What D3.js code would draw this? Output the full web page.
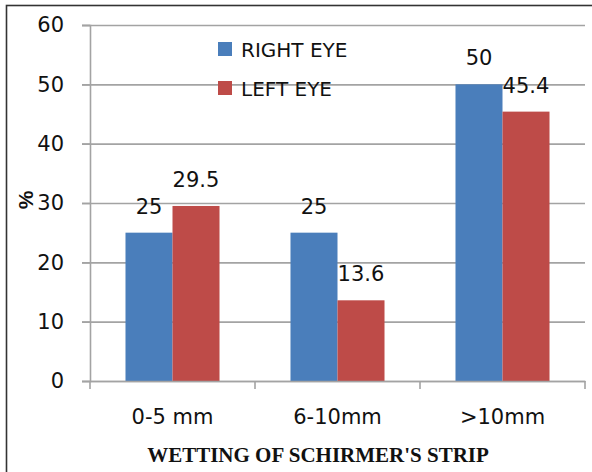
<!DOCTYPE html>
<html>
<head>
<meta charset="utf-8">
<script src="https://cdn.jsdelivr.net/npm/d3@7"></script>
<style>
  html, body { margin: 0; padding: 0; background: #fff; }
  svg { display: block; }
</style>
</head>
<body>
<svg id="chart" width="592" height="472"></svg>
<script>
// Schirmer's test results, % of eyes per wetting range
const categories = ["0-5 mm", "6-10mm", ">10mm"];
const rightEye = [25, 25, 50];
const leftEye = [29.5, 13.6, 45.4];
const seriesNames = ["RIGHT EYE", "LEFT EYE"];
const seriesColors = ["#4a7ebb", "#be4b48"];
const yTicks = [0, 10, 20, 30, 40, 50, 60];
const xTitle = "WETTING OF SCHIRMER'S STRIP";
const yTitle = "%";

const svg = d3.select("#chart");
const sans = "'DejaVu Sans', sans-serif";
const gridColor = "#a3a3a3";

const plot = { left: 90, right: 585, top: 25, bottom: 381 };

const y = d3.scaleLinear().domain([0, 60]).range([plot.bottom, plot.top]);
const x0 = d3.scaleBand().domain(categories).range([plot.left, plot.right]).padding(0);
const x1 = d3.scaleBand().domain(seriesNames).range([0, x0.bandwidth()])
  .paddingInner(0).paddingOuter(0.755);

// outer frame (left and top edges visible)
svg.append("rect")
  .attr("x", 6.5).attr("y", 5.5).attr("width", 620).attr("height", 520)
  .attr("fill", "none").attr("stroke", "#333").attr("stroke-width", 1.6);

// horizontal gridlines, extended left to form the tick marks
const grid = svg.append("g")
  .attr("transform", `translate(${plot.right},0)`)
  .call(d3.axisLeft(y).tickValues(yTicks).tickSize(plot.right - plot.left + 8).tickFormat(""));
grid.select(".domain").remove();
grid.selectAll(".tick line").attr("stroke", gridColor).attr("stroke-width", 1.6);

// y axis labels and line
const yAxis = svg.append("g")
  .attr("transform", `translate(${plot.left},0)`)
  .call(d3.axisLeft(y).tickValues(yTicks).tickSize(8).tickPadding(18));
yAxis.select(".domain").attr("stroke", gridColor).attr("stroke-width", 1.6);
yAxis.selectAll(".tick line").attr("stroke", gridColor).attr("stroke-width", 1.6);
yAxis.selectAll(".tick text")
  .attr("font-family", sans).attr("font-size", 21).attr("fill", "#111");

// bars
const data = categories.map((c, i) => ({ cat: c, vals: [rightEye[i], leftEye[i]] }));
const groups = svg.append("g").selectAll("g").data(data).join("g")
  .attr("transform", d => `translate(${x0(d.cat)},0)`);

groups.selectAll("rect")
  .data(d => d.vals.map((v, j) => ({ name: seriesNames[j], v, j })))
  .join("rect")
  .attr("x", d => x1(d.name))
  .attr("y", d => y(d.v))
  .attr("width", x1.bandwidth())
  .attr("height", d => y(0) - y(d.v))
  .attr("fill", d => seriesColors[d.j]);

// value labels
groups.selectAll("text")
  .data(d => d.vals.map((v, j) => ({ name: seriesNames[j], v, j })))
  .join("text")
  .attr("x", d => x1(d.name) + x1.bandwidth() / 2)
  .attr("y", d => y(d.v) - 19)
  .attr("text-anchor", "middle")
  .attr("font-family", sans).attr("font-size", 21).attr("fill", "#111")
  .text(d => d.v);

// x axis
const xAxis = svg.append("g")
  .attr("transform", `translate(0,${plot.bottom})`)
  .call(d3.axisBottom(x0).tickSize(0).tickSizeOuter(0));
xAxis.select(".domain").attr("stroke", gridColor).attr("stroke-width", 1.6);
xAxis.selectAll(".tick text")
  .attr("y", 43).attr("dy", 0)
  .attr("font-family", sans).attr("font-size", 21).attr("fill", "#111");

// category boundary ticks
const bounds = categories.map(c => x0(c)).concat([x0(categories[categories.length - 1]) + x0.bandwidth()]);
xAxis.selectAll("line.bound").data(bounds).join("line")
  .attr("class", "bound")
  .attr("x1", d => d).attr("x2", d => d)
  .attr("y1", 0).attr("y2", 8)
  .attr("stroke", gridColor).attr("stroke-width", 1.6);

// axis titles
svg.append("text")
  .attr("x", 318).attr("y", 462)
  .attr("text-anchor", "middle")
  .attr("font-family", "'Liberation Serif', 'Times New Roman', serif")
  .attr("font-weight", "bold").attr("font-size", 21).attr("fill", "#111")
  .text(xTitle);

svg.append("text")
  .attr("transform", "translate(33,200) rotate(-90)")
  .attr("text-anchor", "middle")
  .attr("font-family", "'Liberation Sans', Arial, sans-serif")
  .attr("font-weight", "bold").attr("font-size", 21).attr("fill", "#111")
  .text(yTitle);

// legend
const legend = svg.append("g").selectAll("g").data(seriesNames).join("g")
  .attr("transform", (d, i) => `translate(218,${42 + i * 39})`);
legend.append("rect")
  .attr("width", 14).attr("height", 14)
  .attr("fill", (d, i) => seriesColors[i]);
legend.append("text")
  .attr("x", 23).attr("y", 15)
  .attr("font-family", sans).attr("font-size", 20).attr("fill", "#111")
  .text(d => d);
</script>
</body>
</html>
